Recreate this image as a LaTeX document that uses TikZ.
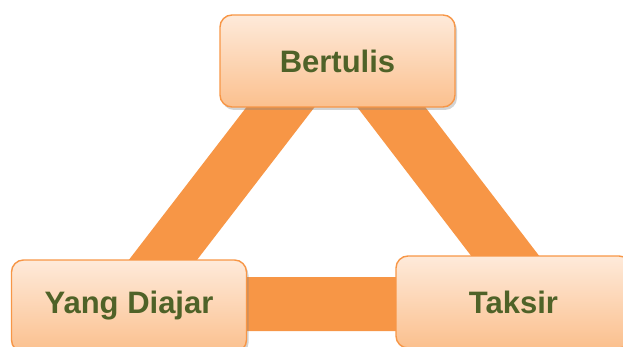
\documentclass[tikz,border=0pt]{standalone}
\usepackage{fontspec}
\setmainfont{Liberation Sans}
\definecolor{ktorange}{RGB}{247,150,70}
\definecolor{ktpeachtop}{RGB}{254,234,218}
\definecolor{ktpeachbot}{RGB}{251,192,142}
\definecolor{ktolive}{RGB}{79,98,40}
\usetikzlibrary{shadows}

\begin{document}
\begin{tikzpicture}[x=1pt,y=-1pt,
  kotak/.style={draw=ktorange,line width=1.4pt,rounded corners=12pt,
    top color=ktpeachtop,bottom color=ktpeachbot,
    minimum width=235pt,minimum height=92pt,inner sep=0pt,
    drop shadow={shadow xshift=2pt,shadow yshift=-3pt,opacity=0.35},
    font=\fontsize{31}{36}\selectfont\bfseries,text=ktolive},
  bar/.style={ktorange,line width=54pt,line join=bevel}
]
  \useasboundingbox (0,0) rectangle (623,347);

  % Triangle behind the boxes
  \coordinate (puncak) at (336,35);
  \coordinate (kiri) at (129,304);
  \coordinate (kanan) at (542,304);
  \draw[bar] (puncak) -- (kiri) -- (kanan) -- cycle;

  % Boxes
  \node[kotak] (tulis) at (337.5,61) {Bertulis};
  \node[kotak] (diajar) at (129,306) {Yang Diajar};
  \node[kotak] (taksir) at (513.5,302) {Taksir};
\end{tikzpicture}
\end{document}
